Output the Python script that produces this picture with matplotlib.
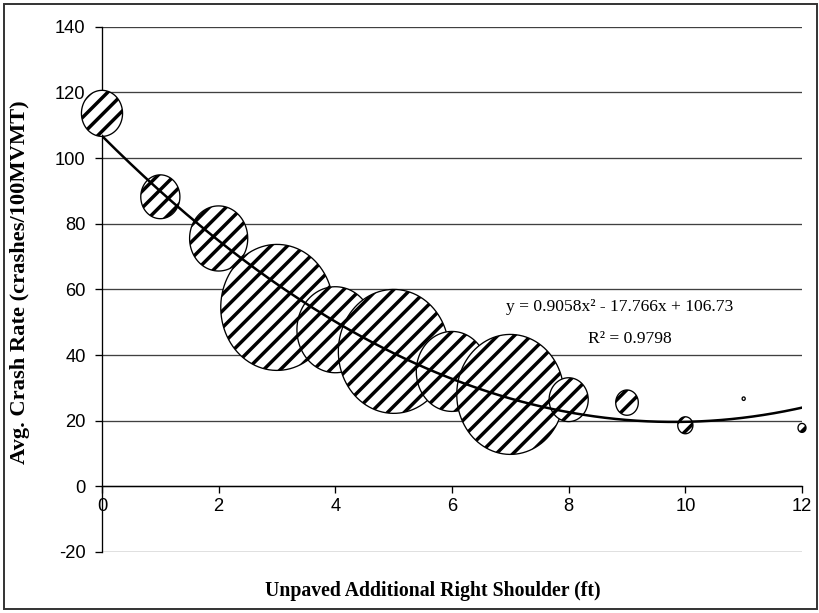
import matplotlib.pyplot as plt
import numpy as np
from matplotlib.path import Path
from matplotlib.patches import Rectangle

# shoulder width (ft), avg crash rate, bubble size (relative exposure)
shoulder = [0, 1, 2, 3, 4, 5, 6, 7, 8, 9, 10, 11, 12]
crash_rate = [113.6, 88.2, 75.5, 54.5, 47.7, 41.1, 35.0, 28.0, 26.4, 25.5, 18.6, 26.7, 17.8]
bubble_size = [5.3, 4.8, 10.6, 39.7, 18.5, 38.4, 16.0, 36.0, 4.8, 1.6, 0.72, 0.03, 0.2]

# trendline as reported on the chart
coef = [0.9058, -17.766, 106.73]
eq_text = "y = 0.9058x² - 17.766x + 106.73"
r2_text = "R² = 0.9798"

y_ticks = [-20, 0, 20, 40, 60, 80, 100, 120, 140]
x_ticks = [0, 2, 4, 6, 8, 10, 12]

plt.rcParams['hatch.linewidth'] = 2.5
plt.rcParams['hatch.color'] = 'black'
plt.rcParams['axes.unicode_minus'] = False

fig = plt.figure(figsize=(8.2, 6.13), dpi=100)
ax = fig.add_axes([102 / 820, 1 - 552 / 613, 700 / 820, 525.3 / 613])

# slightly tall ellipse marker (the original chart is squeezed horizontally)
t = np.linspace(0, 2 * np.pi, 100)
ellipse = Path(np.column_stack([np.cos(t), 1.12 * np.sin(t)]), closed=True)

sizes = np.array(bubble_size)
s = sizes / sizes.max() * 8230
ax.scatter(shoulder, crash_rate, s=s, marker=ellipse, facecolor='white',
           edgecolor='black', linewidths=0.95, hatch='//', zorder=3, clip_on=False)

xx = np.linspace(0, 12, 200)
ax.plot(xx, np.polyval(coef, xx), color='black', lw=1.8, zorder=4)

ax.text(0.74, 0.466, eq_text, transform=ax.transAxes, ha='center', va='center',
        fontsize=12.6, family='Liberation Serif', zorder=5)
ax.text(0.754, 0.405, r2_text, transform=ax.transAxes, ha='center', va='center',
        fontsize=12.6, family='Liberation Serif', zorder=5)

ax.set_xlim(0, 12)
ax.set_ylim(-20, 140)
ax.set_xticks(x_ticks)
ax.set_yticks(y_ticks)
ax.yaxis.grid(True, color='0.25', lw=0.95)
ax.set_axisbelow(True)

for side in ['top', 'right']:
    ax.spines[side].set_visible(False)
ax.spines['bottom'].set_position(('data', 0))
ax.spines['bottom'].set_linewidth(0.95)
ax.spines['left'].set_linewidth(0.95)
ax.tick_params(axis='both', direction='out', length=4.8, width=0.95,
               labelsize=13.2, labelfontfamily='Liberation Sans')
ax.tick_params(axis='x', pad=3.6)
ax.tick_params(axis='y', pad=7)

fig.text(433 / 820, 1 - 591 / 613, "Unpaved Additional Right Shoulder (ft)",
         ha='center', va='center', fontsize=14.2, fontweight='bold', family='Liberation Serif')
fig.text(20 / 820, 1 - 282 / 613, "Avg. Crash Rate (crashes/100MVMT)", rotation=90,
         ha='center', va='center', fontsize=16.2, fontweight='bold', family='Liberation Serif')

fig.add_artist(Rectangle((4 / 820, 4 / 613), 813 / 820, 605 / 613, transform=fig.transFigure,
                         fill=False, edgecolor='0.2', lw=1.4))

plt.savefig("out.png", dpi=100)
